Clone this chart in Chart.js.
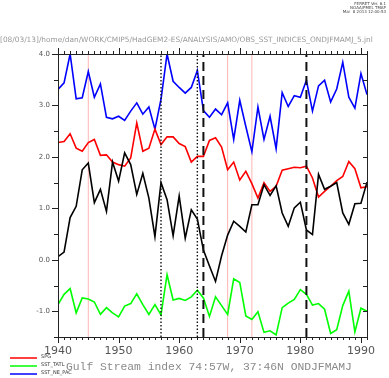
<!DOCTYPE html>
<html>
<head>
<meta charset="utf-8">
<script src="https://cdn.jsdelivr.net/npm/chart.js@4.4.0/dist/chart.umd.min.js"></script>
<style>
    body { margin: 0; background: #fff; }
    #wrap { width: 389px; height: 378px; position: relative; }
</style>
</head>
<body>
<div id="wrap"><canvas id="myChart"></canvas></div>
<script>
// ONDJFMAMJ means, 1940-1991
const years = [1940, 1941, 1942, 1943, 1944, 1945, 1946, 1947, 1948, 1949,
    1950, 1951, 1952, 1953, 1954, 1955, 1956, 1957, 1958, 1959,
    1960, 1961, 1962, 1963, 1964, 1965, 1966, 1967, 1968, 1969,
    1970, 1971, 1972, 1973, 1974, 1975, 1976, 1977, 1978, 1979,
    1980, 1981, 1982, 1983, 1984, 1985, 1986, 1987, 1988, 1989,
    1990, 1991];

const gulfStream = [0.06, 0.15, 0.82, 1.04, 1.75, 1.88, 1.11, 1.37, 0.94, 1.90,
    1.53, 2.08, 1.85, 1.27, 1.68, 1.20, 0.45, 1.50, 1.17, 0.47,
    1.24, 0.42, 0.97, 0.79, 0.19, -0.12, -0.42, 0.08, 0.48, 0.75,
    0.65, 0.54, 1.07, 1.07, 1.46, 1.25, 1.44, 0.91, 0.65, 1.01,
    1.12, 0.58, 0.49, 1.66, 1.37, 1.43, 1.50, 0.91, 0.69, 1.09,
    1.10, 1.51];

const spg = [2.28, 2.30, 2.45, 2.17, 2.11, 2.28, 2.34, 2.03, 2.04, 1.90,
    1.85, 1.82, 1.98, 2.66, 2.11, 2.17, 2.54, 2.24, 2.39, 2.39,
    2.26, 2.20, 1.90, 2.01, 2.01, 2.32, 2.37, 2.19, 1.75, 1.90,
    1.55, 1.72, 1.48, 1.20, 1.50, 1.33, 1.43, 1.74, 1.77, 1.80,
    1.79, 1.82, 1.59, 1.22, 1.33, 1.43, 1.54, 1.62, 1.91, 1.77,
    1.40, 1.42];

const sstTatl = [-0.87, -0.67, -0.56, -1.03, -0.74, -0.76, -0.82, -1.06, -0.93, -1.03,
    -1.11, -0.90, -0.85, -0.66, -0.87, -1.06, -0.87, -1.07, -0.29, -0.78,
    -0.75, -0.79, -0.72, -0.59, -0.74, -1.10, -0.72, -0.89, -1.06, -0.37,
    -0.44, -1.09, -1.16, -1.01, -1.41, -1.38, -1.46, -0.93, -0.84, -0.77,
    -0.58, -0.67, -0.88, -0.85, -0.96, -1.43, -1.36, -0.89, -0.61, -1.40,
    -0.94, -1.00];

const sstNePac = [3.31, 3.44, 4.00, 3.13, 3.15, 3.66, 3.16, 3.42, 2.77, 2.74,
    2.79, 2.71, 2.89, 3.05, 2.83, 2.97, 2.54, 3.12, 4.00, 3.47,
    3.35, 3.24, 3.35, 3.68, 2.90, 2.77, 2.93, 2.82, 3.05, 2.34,
    3.10, 2.59, 2.10, 2.97, 2.34, 2.79, 2.16, 3.25, 2.98, 3.19,
    3.16, 3.49, 2.89, 3.38, 3.49, 3.07, 3.32, 3.84, 3.16, 2.95,
    3.62, 3.21];

// marker years
const pinkYears = [1945, 1968, 1972];
const dottedYears = [1957, 1963];
const dashedYears = [1964, 1981];

const xTicks = [1940, 1950, 1960, 1970, 1980, 1990];
const yTicks = [4.0, 3.0, 2.0, 1.0, 0.0, -1.0];

const xMin = 1940, xMax = 1991;
const yMin = -1.5, yMax = 4.0;

const headerText = '[08/03/13]/home/dan/WORK/CMIP5/HadGEM2-ES/ANALYSIS/AMO/OBS_SST_INDICES_ONDJFMAMJ_5.jnl';
const titleText = 'Gulf Stream index 74:57W, 37:46N ONDJFMAMJ';
const stampLines = ['FERRET Ver. 6.1', 'NOAA/PMEL TMAP', 'Mar  8 2013 12:00:53'];

function toPoints(values) {
    return values.map((v, i) => ({ x: years[i], y: v }));
}

function markerSets(list, color, width, dash, order) {
    return list.map(yr => ({
        label: 'marker ' + yr,
        data: [{ x: yr, y: yMin }, { x: yr, y: yMax }],
        borderColor: color,
        borderWidth: width,
        borderDash: dash,
        pointRadius: 0,
        order: order
    }));
}

const seriesSets = [
    { label: 'Gulf Stream index', data: toPoints(gulfStream), borderColor: '#000000', inLegend: false },
    { label: 'SPG', data: toPoints(spg), borderColor: '#ff0000', inLegend: true },
    { label: 'SST_TATL', data: toPoints(sstTatl), borderColor: '#00ff00', inLegend: true },
    { label: 'SST_NE_PAC', data: toPoints(sstNePac), borderColor: '#0000ff', inLegend: true }
].map(ds => Object.assign(ds, { borderWidth: 1.6, pointRadius: 0, tension: 0, order: 5 }));

// squeeze a text into a given width
function fitFont(ctx, text, family, size, width) {
    ctx.font = size + 'px ' + family;
    const w = ctx.measureText(text).width;
    return (size * width / w).toFixed(2) + 'px ' + family;
}

// axis ticks, frame and the ferret texts
const ferretDecor = {
    id: 'ferretDecor',
    afterDraw(chart) {
        const ctx = chart.ctx;
        const area = chart.chartArea;
        const xs = chart.scales.x;
        const ys = chart.scales.y;
        ctx.save();

        ctx.strokeStyle = '#222';
        ctx.lineWidth = 1;
        ctx.strokeRect(Math.round(area.left) + 0.5, Math.round(area.top) + 0.5,
            Math.round(area.right - area.left), Math.round(area.bottom - area.top));

        ctx.beginPath();
        for (let yr = xMin; yr <= xMax; yr++) {
            const px = Math.round(xs.getPixelForValue(yr)) + 0.5;
            const len = yr % 10 === 0 ? 6 : 3;
            ctx.moveTo(px, area.bottom);
            ctx.lineTo(px, area.bottom + len);
            ctx.moveTo(px, area.top);
            ctx.lineTo(px, area.top - len);
        }
        for (let v = yMin; v <= yMax; v += 0.5) {
            const py = Math.round(ys.getPixelForValue(v)) + 0.5;
            const len = Number.isInteger(v) ? 6 : 4;
            ctx.moveTo(area.left, py);
            ctx.lineTo(area.left - len, py);
            ctx.moveTo(area.right, py);
            ctx.lineTo(area.right - 4, py);
        }
        ctx.stroke();

        // legend
        let ly = 358;
        chart.data.datasets.filter(ds => ds.inLegend).forEach(ds => {
            ctx.strokeStyle = ds.borderColor;
            ctx.lineWidth = 1.5;
            ctx.beginPath();
            ctx.moveTo(10, ly);
            ctx.lineTo(37, ly);
            ctx.stroke();
            ctx.fillStyle = '#333';
            ctx.font = '5px "DejaVu Sans"';
            ctx.textAlign = 'left';
            ctx.textBaseline = 'bottom';
            ctx.fillText(ds.label, 41, ly + 1);
            ly += 8;
        });

        ctx.fillStyle = '#8a8a8a';
        ctx.font = fitFont(ctx, titleText, '"Liberation Mono"', 12, 286);
        ctx.textAlign = 'left';
        ctx.textBaseline = 'middle';
        ctx.fillText(titleText, 66, 367);

        ctx.font = fitFont(ctx, headerText, '"DejaVu Sans"', 8, 373);
        ctx.fillStyle = '#999';
        ctx.fillText(headerText, 0, 40);

        ctx.fillStyle = '#444';
        ctx.font = '4px "DejaVu Sans"';
        ctx.textAlign = 'right';
        stampLines.forEach((t, i) => ctx.fillText(t, 386, 4 + i * 4));

        ctx.restore();
    }
};

const ctxMain = document.getElementById('myChart').getContext('2d');
const ferretChart = new Chart(ctxMain, {
    type: 'line',
    data: {
        datasets: [].concat(
            markerSets(pinkYears, '#ffb4b4', 1, [], 9),
            seriesSets,
            markerSets(dottedYears, '#111', 1.4, [1.5, 2], 1),
            markerSets(dashedYears, '#111', 2, [9, 5], 1)
        )
    },
    options: {
        responsive: true,
        maintainAspectRatio: false,
        animation: false,
        layout: { padding: { top: 54, right: 22, bottom: 0, left: 0 } },
        plugins: {
            legend: { display: false },
            title: { display: false },
            tooltip: { enabled: false }
        },
        scales: {
            x: {
                type: 'linear',
                min: xMin,
                max: xMax,
                grid: { display: false, drawTicks: false },
                border: { display: false },
                afterFit: scale => { scale.height = 41; },
                afterBuildTicks: scale => { scale.ticks = xTicks.map(v => ({ value: v })); },
                ticks: {
                    padding: 8,
                    autoSkip: false,
                    maxRotation: 0,
                    color: '#555',
                    font: { family: 'DejaVu Sans', size: 11 },
                    callback: v => String(v)
                }
            },
            y: {
                type: 'linear',
                min: yMin,
                max: yMax,
                grid: { display: false, drawTicks: false },
                border: { display: false },
                afterFit: scale => { scale.width = 58; },
                afterBuildTicks: scale => { scale.ticks = yTicks.map(v => ({ value: v })); },
                ticks: {
                    padding: 8,
                    autoSkip: false,
                    color: '#555',
                    font: { family: 'DejaVu Sans', size: 7 },
                    callback: v => Number(v).toFixed(1)
                }
            }
        }
    },
    plugins: [ferretDecor]
});
</script>
</body>
</html>
